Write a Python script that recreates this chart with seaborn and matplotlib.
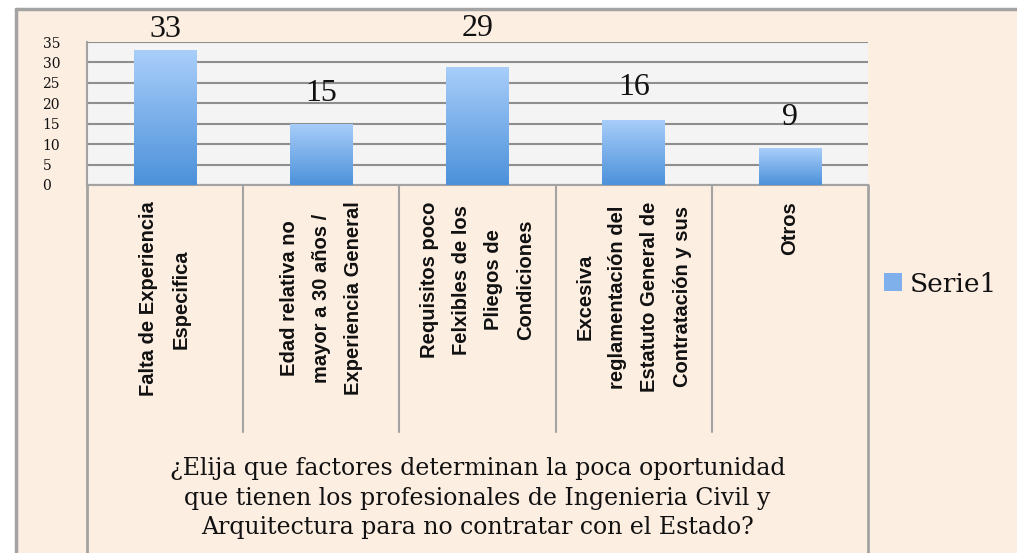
import numpy as np
import pandas as pd
import seaborn as sns
import matplotlib.pyplot as plt
from matplotlib.colors import LinearSegmentedColormap
from matplotlib.patches import Rectangle, Patch
from matplotlib.lines import Line2D

# data
categorias = [
    "Falta de Experiencia\nEspecifica",
    "Edad relativa no\nmayor a 30 años /\nExperiencia General",
    "Requisitos poco\nFelxibles de los\nPliegos de\nCondiciones",
    "Excesiva\nreglamentación del\nEstatuto General de\nContratación y sus",
    "Otros",
]
valores = [33, 15, 29, 16, 9]
serie = "Serie1"
titulo_x = ("¿Elija que factores determinan la poca oportunidad\n"
            "que tienen los profesionales de Ingenieria Civil y\n"
            "Arquitectura para no contratar con el Estado?")
yticks = [0, 5, 10, 15, 20, 25, 30, 35]

# gap (points) between bar top and its data label, as laid out in the original
label_gap = [4.5, 11.5, 17, 12.5, 12]

sns.set_style("white")
plt.rcParams['font.family'] = ['DejaVu Serif']

W, H = 1017, 553
bg = '#FDEEE2'
frame_c = '#A3A3A3'
fig = plt.figure(figsize=(W / 100, H / 100), dpi=100, facecolor='white')

# peach chart area with grey frame on the left and top edges
fig.patches.append(Rectangle((16 / W, 0), 1, 1 - 9 / H, transform=fig.transFigure,
                             facecolor=bg, edgecolor='none', zorder=-2))
fig.lines.append(Line2D([16 / W, 16 / W], [0, 1 - 9 / H], transform=fig.transFigure,
                        color=frame_c, lw=2.5, zorder=-1))
fig.lines.append(Line2D([16 / W, 1], [1 - 9 / H, 1 - 9 / H], transform=fig.transFigure,
                        color=frame_c, lw=2.5, zorder=-1))

ax_l, ax_r, ax_t, ax_b = 87, 868, 42, 185
ax = fig.add_axes([ax_l / W, 1 - ax_b / H, (ax_r - ax_l) / W, (ax_b - ax_t) / H])
ax.set_facecolor('#F4F4F4')

df = pd.DataFrame({'cat': categorias, 'val': valores})
sns.barplot(data=df, x='cat', y='val', ax=ax, width=0.4, color='#7FB0EC',
            linewidth=0, zorder=3)

# vertical gradient on every bar
cmap = LinearSegmentedColormap.from_list('azul', ['#4C91DA', '#A9CEFA'])
grad = np.linspace(0, 1, 256).reshape(-1, 1)
for p in ax.patches:
    x0, w, h = p.get_x(), p.get_width(), p.get_height()
    im = ax.imshow(grad, cmap=cmap, origin='lower', aspect='auto',
                   extent=[x0, x0 + w, 0, h], zorder=4)
    im.set_clip_path(p)

ax.set_xlim(-0.5, len(categorias) - 0.5)
ax.set_ylim(0, 35)
ax.set_yticks(yticks)
ax.yaxis.grid(True, color='#8E8E8E', lw=1.5, zorder=1)
ax.set_axisbelow(True)
for s in ['top', 'right']:
    ax.spines[s].set_visible(False)
for s in ['left', 'bottom']:
    ax.spines[s].set_color(frame_c)
    ax.spines[s].set_linewidth(1.5)

ax.tick_params(axis='y', length=10, width=1.5, color=frame_c, pad=22, labelsize=10,
               labelcolor='#111111')
for lab in ax.get_yticklabels():
    lab.set_ha('left')

# data labels
for p, v, gap in zip(ax.patches, valores, label_gap):
    ax.annotate(str(v), (p.get_x() + p.get_width() / 2, p.get_height()),
                xytext=(0, gap), textcoords='offset points', ha='center', va='bottom',
                fontsize=23, family='Liberation Serif', color='#111111',
                annotation_clip=False)

# category labels
ax.set_xticks(range(len(categorias)))
ax.set_xticklabels(categorias, rotation=90, ha='center', va='top', multialignment='center',
                   family='Liberation Sans', fontweight='bold', fontsize=14.5,
                   linespacing=1.88, color='#111111')
ax.tick_params(axis='x', length=0, pad=12)
ax.set_xlabel('')
ax.set_ylabel('')

# category boundary lines below the axis
tr = ax.get_xaxis_transform()
h_ax = ax_b - ax_t
y_div = -(432 - ax_b) / h_ax
y_bot = -(H - ax_b) / h_ax
for i in range(1, len(categorias)):
    ax.add_line(Line2D([i - 0.5, i - 0.5], [0, y_div], transform=tr, color=frame_c,
                       lw=1.5, clip_on=False))
for xb in [-0.5, len(categorias) - 0.5]:
    ax.add_line(Line2D([xb, xb], [0, y_bot], transform=tr, color=frame_c,
                       lw=2, clip_on=False))

# axis title
fig.text((ax_l + ax_r) / 2 / W, 1 - 498 / H, titulo_x, ha='center', va='center',
         multialignment='center', fontsize=17, family='DejaVu Serif', linespacing=1.38,
         color='#111111')

# legend
fig.legend(handles=[Patch(facecolor='#7FB0EC', edgecolor='none', label=serie)],
           loc='center left', bbox_to_anchor=(873 / W, 1 - 284 / H), frameon=False,
           prop={'family': 'DejaVu Serif', 'size': 19}, handlelength=0.68, handleheight=0.68,
           handletextpad=0.3, borderaxespad=0, labelcolor='#111111')

fig.savefig('out.png', dpi=100, facecolor='white')
